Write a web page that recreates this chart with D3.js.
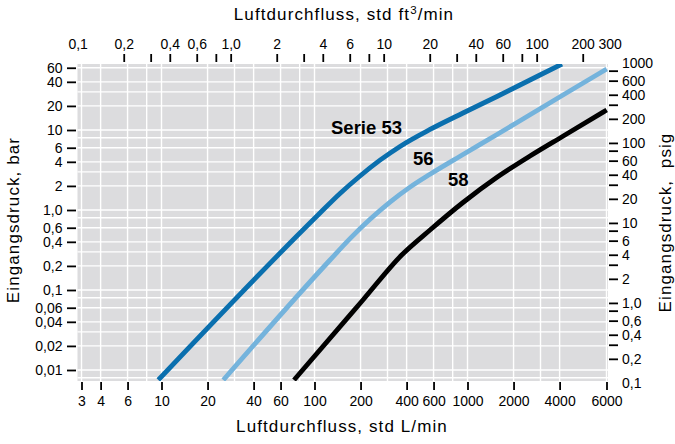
<!DOCTYPE html>
<html><head><meta charset="utf-8">
<script src="https://cdn.jsdelivr.net/npm/d3@7"></script>
<style>
html,body{margin:0;padding:0;background:#fff;}
text{font-family:"Liberation Sans",Arial,Helvetica,sans-serif;}
</style></head>
<body><svg id="c" width="675" height="444"></svg>
<script>
// ---- data (flow in std L/min, pressure in bar) ----
const flow53 = [9.53, 105.4, 146.8, 198.4, 268.0, 362.2, 568.8, 934.5, 1559, 2562, 4146];
const bar53  = [0.0075, 0.866, 1.608, 2.661, 4.194, 6.237, 10.15, 16.31, 26.23, 42.17, 66.8];
const flow56 = [25.35, 126.3, 170.6, 230.6, 311.5, 420.9, 568.8, 934.5, 1559, 2562, 4209, 8124];
const bar56  = [0.0075, 0.2371, 0.4391, 0.765, 1.255, 1.933, 2.802, 4.94, 8.785, 15.53, 27.38, 57.87];
const flow58 = [73.46, 146.8, 208, 371.5, 568.8, 934.5, 1559, 2562, 4228, 8124];
const bar58  = [0.0075, 0.0349, 0.0756, 0.2738, 0.5623, 1.241, 2.563, 4.732, 8.414, 17.78];
const seriesNames = ["Serie 53", "56", "58"];

// ---- axis ticks / labels ----
const bottomTicks  = [3, 4, 6, 10, 20, 40, 60, 100, 200, 400, 600, 1000, 2000, 4000, 6000];
const bottomLabels = ["3","4","6","10","20","40","60","100","200","400","600","1000","2000","4000","6000"];
const topTicks  = [0.1,0.2,0.3,0.4,0.6,0.8,1,2,3,4,6,8,10,20,30,40,60,80,100,200,300];
const topLabels = ["0,1","0,2","","0,4","0,6","","1,0","2","","4","6","","10","20","","40","60","","100","200","300"];
const leftTicks  = [0.01,0.02,0.04,0.06,0.1,0.2,0.4,0.6,1,2,4,6,10,20,40,60];
const leftLabels = ["0,01","0,02","0,04","0,06","0,1","0,2","0,4","0,6","1,0","2","4","6","10","20","40","60"];
const rightTicks  = [0.1,0.2,0.3,0.4,0.6,0.8,1,2,3,4,6,8,10,20,30,40,60,80,100,200,300,400,600,800,1000];
const rightLabels = ["0,1","0,2","","0,4","0,6","","1,0","2","","4","6","","10","20","","40","60","","100","200","","400","600","","1000"];
const xGrid = [3,4,6,8,10,20,30,40,60,80,100,200,300,400,600,800,1000,2000,3000,4000,6000];
const yGrid = [0.008,0.01,0.02,0.03,0.04,0.06,0.08,0.1,0.2,0.3,0.4,0.6,0.8,1,2,3,4,6,8,10,20,30,40,60];

const CFM = 28.3168;   // L/min per ft3/min
const PSI = 14.5038;   // psi per bar

const svg = d3.select("#c");

// scales
const x = d3.scaleLog().domain([10, 1000]).range([161.5, 467.5]);
const y = d3.scaleLog().domain([1, 0.01]).range([210, 370]);
const xTop = d3.scaleLog().domain([0.1, 300]).range([x(0.1*CFM), x(300*CFM)]);
const xBot = d3.scaleLog().domain([3, 4000, 6000]).range([x(3), x(4000), 606.5]);
const yR = d3.scaleLog().domain([0.1, 1000]).range([y(0.1/PSI), y(1000/PSI)]);

const L = 77.5, R = 608, T = 64, B = 381;

svg.append("rect").attr("x", L).attr("y", T).attr("width", R-L).attr("height", B-T).attr("fill", "#dcdcde");

const grid = svg.append("g").attr("stroke", "#fff").attr("stroke-width", 1.4);
grid.selectAll(".gx").data(xGrid).join("line")
  .attr("x1", d => xBot(d)).attr("x2", d => xBot(d)).attr("y1", T).attr("y2", B);
grid.selectAll(".gy").data(yGrid).join("line")
  .attr("y1", d => y(d)).attr("y2", d => y(d)).attr("x1", L).attr("x2", R);

svg.append("clipPath").attr("id", "clip").append("rect")
  .attr("x", L).attr("y", T).attr("width", R-L).attr("height", B-T);

const line = d3.line().x(d => x(d[0])).y(d => y(d[1])).curve(d3.curveMonotoneX);
const series = [
  {f: flow53, p: bar53, c: "#0a6fae"},
  {f: flow56, p: bar56, c: "#74b3dc"},
  {f: flow58, p: bar58, c: "#000000"}
];
const gl = svg.append("g").attr("clip-path", "url(#clip)");
series.forEach(s => {
  gl.append("path").datum(s.f.map((v, i) => [v, s.p[i]]))
    .attr("d", line).attr("fill", "none").attr("stroke", s.c)
    .attr("stroke-width", 4.8).attr("stroke-linejoin", "round");
});

// series labels
const lab = [
  {t: seriesNames[0], x: 331, y: 133.5},
  {t: seriesNames[1], x: 413, y: 165},
  {t: seriesNames[2], x: 448, y: 185.5}
];
svg.selectAll(".sl").data(lab).join("text")
  .attr("x", d => d.x).attr("y", d => d.y).text(d => d.t)
  .attr("font-size", 18.5).attr("font-weight", "bold").attr("fill", "#000");

function styleAxis(g) {
  g.select(".domain").remove();
  g.selectAll(".tick line").attr("stroke", "#000").attr("stroke-width", 1.8);
  g.selectAll(".tick text").attr("font-size", 14).attr("fill", "#000")
    .style("font-family", '"Liberation Sans", Arial, sans-serif');
}

// bottom axis
svg.append("g").attr("transform", `translate(0,382)`)
  .call(d3.axisBottom(xBot).tickValues(bottomTicks).tickSize(8).tickPadding(6)
    .tickFormat((d, i) => bottomLabels[i]))
  .call(styleAxis);

// top axis
const gt = svg.append("g").attr("transform", `translate(0,62)`)
  .call(d3.axisTop(xTop).tickValues(topTicks).tickSize(8).tickPadding(4.7)
    .tickFormat((d, i) => topLabels[i]))
  .call(styleAxis);
gt.selectAll(".tick line").filter(d => d === 0.1 || d === 300).remove();

// left axis
svg.append("g").attr("transform", `translate(76,0)`)
  .call(d3.axisLeft(y).tickValues(leftTicks).tickSize(9).tickPadding(4.5)
    .tickFormat((d, i) => leftLabels[i]))
  .call(styleAxis);

// right axis
const gr = svg.append("g").attr("transform", `translate(609,0)`)
  .call(d3.axisRight(yR).tickValues(rightTicks).tickSize(9).tickPadding(4)
    .tickFormat((d, i) => rightLabels[i]))
  .call(styleAxis);
gr.selectAll(".tick line").filter(d => d === 0.1 || d === 1000).remove();

// titles
const tt = svg.append("text").attr("x", 344).attr("y", 20).attr("text-anchor", "middle")
  .attr("font-size", 17).attr("letter-spacing", 1.1).attr("fill", "#000");
tt.append("tspan").text("Luftdurchfluss, std ft");
tt.append("tspan").attr("dy", -6).attr("font-size", 11.5).text("3");
tt.append("tspan").attr("dy", 6).text("/min");

svg.append("text").attr("x", 342).attr("y", 432).attr("text-anchor", "middle")
  .attr("font-size", 17).attr("letter-spacing", 1.1).attr("fill", "#000")
  .text("Luftdurchfluss, std L/min");

svg.append("text").attr("transform", "translate(19,220) rotate(-90)").attr("text-anchor", "middle")
  .attr("font-size", 17).attr("letter-spacing", 1.1).attr("fill", "#000")
  .text("Eingangsdruck, bar");

svg.append("text").attr("transform", "translate(671,222.5) rotate(-90)").attr("text-anchor", "middle")
  .attr("font-size", 17).attr("letter-spacing", 1.1).attr("fill", "#000")
  .style("white-space", "pre").attr("xml:space", "preserve")
  .text("Eingangsdruck,  psig");
</script></body></html>
